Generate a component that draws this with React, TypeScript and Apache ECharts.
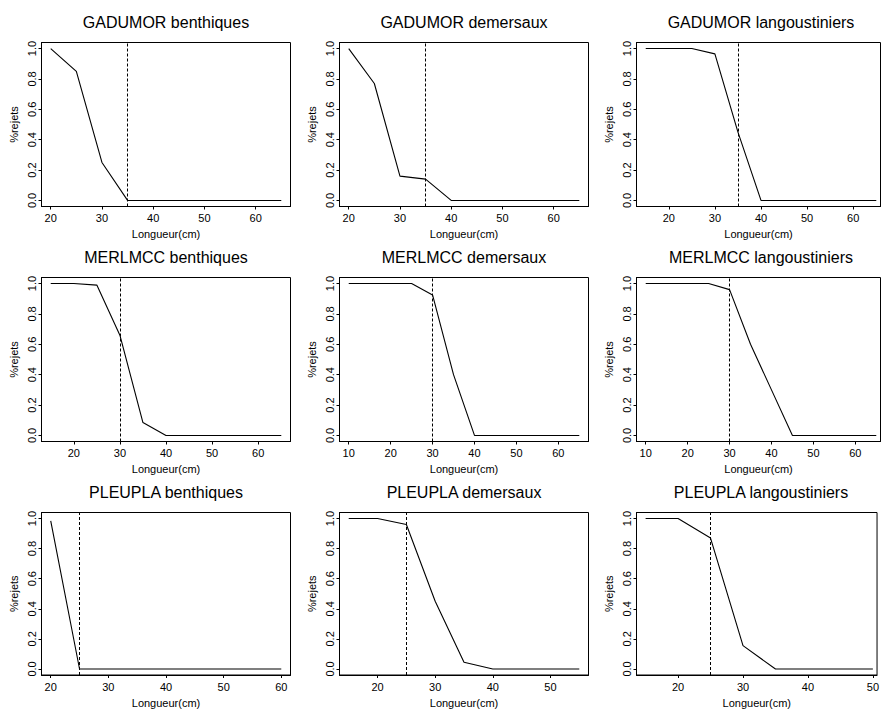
import React, { useEffect, useRef } from "react";
import * as echarts from "echarts";

// ---- Data ----
const panelTitles = [
  "GADUMOR benthiques",
  "GADUMOR demersaux",
  "GADUMOR langoustiniers",
  "MERLMCC benthiques",
  "MERLMCC demersaux",
  "MERLMCC langoustiniers",
  "PLEUPLA benthiques",
  "PLEUPLA demersaux",
  "PLEUPLA langoustiniers",
];

const lengthsGadBen = [20, 25, 30, 35, 40, 45, 50, 55, 60, 65];
const rejetsGadBen = [1.0, 0.85, 0.25, 0.0, 0, 0, 0, 0, 0, 0];

const lengthsGadDem = [20, 25, 30, 35, 40, 45, 50, 55, 60, 65];
const rejetsGadDem = [1.0, 0.77, 0.16, 0.14, 0, 0, 0, 0, 0, 0];

const lengthsGadLang = [15, 20, 25, 30, 35, 40, 45, 50, 55, 60, 65];
const rejetsGadLang = [1.0, 1.0, 1.0, 0.965, 0.45, 0, 0, 0, 0, 0, 0];

const lengthsMerBen = [15, 20, 25, 30, 35, 40, 45, 50, 55, 60, 65];
const rejetsMerBen = [1.0, 1.0, 0.99, 0.66, 0.085, 0, 0, 0, 0, 0, 0];

const lengthsMerDem = [10, 15, 20, 25, 30, 35, 40, 45, 50, 55, 60, 65];
const rejetsMerDem = [1.0, 1.0, 1.0, 1.0, 0.925, 0.4, 0, 0, 0, 0, 0, 0];

const lengthsMerLang = [10, 15, 20, 25, 30, 35, 40, 45, 50, 55, 60, 65];
const rejetsMerLang = [1.0, 1.0, 1.0, 1.0, 0.96, 0.6, 0.3, 0, 0, 0, 0, 0];

const lengthsPleBen = [20, 25, 30, 35, 40, 45, 50, 55, 60];
const rejetsPleBen = [0.985, 0, 0, 0, 0, 0, 0, 0, 0];

const lengthsPleDem = [15, 20, 25, 30, 35, 40, 45, 50, 55];
const rejetsPleDem = [1.0, 1.0, 0.96, 0.45, 0.045, 0, 0, 0, 0];

const lengthsPleLang = [15, 20, 25, 30, 35, 40, 45, 50];
const rejetsPleLang = [1.0, 1.0, 0.87, 0.155, 0, 0, 0, 0];

const panelLengths = [
  lengthsGadBen, lengthsGadDem, lengthsGadLang,
  lengthsMerBen, lengthsMerDem, lengthsMerLang,
  lengthsPleBen, lengthsPleDem, lengthsPleLang,
];
const panelRejets = [
  rejetsGadBen, rejetsGadDem, rejetsGadLang,
  rejetsMerBen, rejetsMerDem, rejetsMerLang,
  rejetsPleBen, rejetsPleDem, rejetsPleLang,
];

// Vertical dashed reference lines (taille minimale)
const cutoffs = [35, 35, 35, 30, 30, 30, 25, 25, 25];

// Tick labels
const xTickSets = [
  [20, 30, 40, 50, 60],
  [20, 30, 40, 50, 60],
  [20, 30, 40, 50, 60],
  [20, 30, 40, 50, 60],
  [10, 20, 30, 40, 50, 60],
  [10, 20, 30, 40, 50, 60],
  [20, 30, 40, 50, 60],
  [20, 30, 40, 50],
  [20, 30, 40, 50],
];
const yTicks = [0, 0.2, 0.4, 0.6, 0.8, 1.0];

const xAxisTitle = "Longueur(cm)";
const yAxisTitle = "%rejets";

// ---- Layout ----
const COL_LEFT = [41.5, 339.5, 636.5];
const ROW_TOP = [42.5, 277.5, 512.5];
const BOX_W = 249;
const BOX_H = 164;
const COL3_VISIBLE_W = 244;
const FONT = "'Liberation Sans', Arial, Helvetica, sans-serif";

function buildOption() {
  const grid: any[] = [];
  const xAxis: any[] = [];
  const yAxis: any[] = [];
  const series: any[] = [];
  const title: any[] = [];

  for (let i = 0; i < 9; i++) {
    const col = i % 3;
    const row = Math.floor(i / 3);
    const xs = panelLengths[i];
    const ys = panelRejets[i];
    const first = xs[0];
    const last = xs[xs.length - 1];
    const span = last - first;
    const lo = first - 0.04 * span;
    let hi = last + 0.04 * span;
    let w = BOX_W;
    if (col === 2) {
      w = COL3_VISIBLE_W;
      hi = lo + (hi - lo) * (COL3_VISIBLE_W / BOX_W);
    }
    const left = COL_LEFT[col];
    const top = ROW_TOP[row];

    grid.push({
      left,
      top,
      width: w,
      height: BOX_H,
      show: true,
      borderColor: "#000",
      borderWidth: 1,
      backgroundColor: "transparent",
      containLabel: false,
    });

    xAxis.push({
      type: "value",
      gridIndex: i,
      min: lo,
      max: hi,
      name: xAxisTitle,
      nameLocation: "middle",
      nameGap: 22,
      nameTextStyle: { color: "#000", fontSize: 11, fontFamily: FONT },
      axisLine: { show: true, onZero: false, lineStyle: { color: "#000", width: 1 } },
      axisTick: {
        show: true,
        inside: false,
        length: 3,
        customValues: xTickSets[i],
        lineStyle: { color: "#000", width: 1 },
      },
      axisLabel: {
        show: true,
        customValues: xTickSets[i],
        color: "#000",
        fontSize: 11,
        fontFamily: FONT,
        margin: 6,
        formatter: (v: number) => String(Math.round(v)),
      },
      splitLine: { show: false },
    });

    yAxis.push({
      type: "value",
      gridIndex: i,
      min: -0.04,
      max: 1.04,
      name: yAxisTitle,
      nameLocation: "middle",
      nameGap: 22,
      nameRotate: 90,
      nameTextStyle: { color: "#000", fontSize: 11, fontFamily: FONT },
      axisLine: { show: true, onZero: false, lineStyle: { color: "#000", width: 1 } },
      axisTick: {
        show: true,
        inside: false,
        length: 3,
        customValues: yTicks,
        lineStyle: { color: "#000", width: 1 },
      },
      axisLabel: {
        show: true,
        customValues: yTicks,
        rotate: 90,
        color: "#000",
        fontSize: 11,
        fontFamily: FONT,
        margin: 4,
        formatter: (v: number) => v.toFixed(1),
      },
      splitLine: { show: false },
    });

    series.push({
      type: "line",
      xAxisIndex: i,
      yAxisIndex: i,
      data: xs.map((x, k) => [x, ys[k]]),
      symbol: "none",
      showSymbol: false,
      lineStyle: { color: "#000", width: 1.1 },
      itemStyle: { color: "#000" },
      silent: true,
      markLine: {
        silent: true,
        symbol: ["none", "none"],
        label: { show: false },
        lineStyle: { color: "#000", width: 1, type: [3, 2] },
        data: [{ xAxis: cutoffs[i] }],
      },
    });

    title.push({
      text: panelTitles[i],
      left: COL_LEFT[col] + BOX_W / 2,
      top: top - 28,
      textAlign: "center",
      padding: 0,
      textStyle: {
        color: "#000",
        fontSize: 16,
        fontWeight: "normal",
        fontFamily: FONT,
      },
    });
  }

  return {
    animation: false,
    backgroundColor: "#fff",
    title,
    grid,
    xAxis,
    yAxis,
    series,
  };
}

export default function App() {
  const ref = useRef<HTMLDivElement>(null);
  useEffect(() => {
    if (!ref.current) return;
    const chart = echarts.init(ref.current, undefined, { renderer: "svg" });
    chart.setOption(buildOption() as any);
    return () => chart.dispose();
  }, []);
  return (
    <div
      ref={ref}
      style={{ position: "absolute", left: 0, top: 0, width: 882, height: 709, background: "#fff" }}
    />
  );
}
